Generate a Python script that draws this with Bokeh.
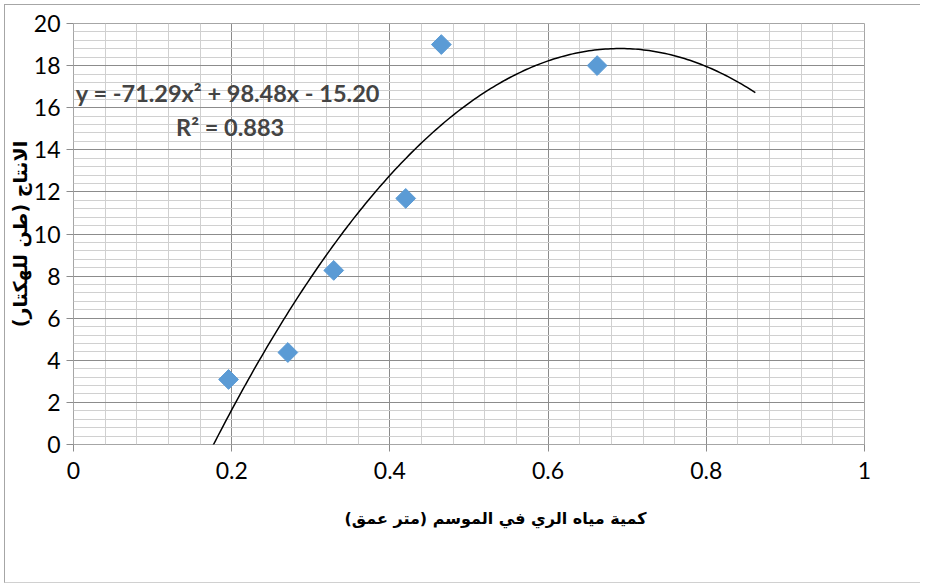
import math
from bokeh.plotting import figure
from bokeh.models import Label, Range1d, FixedTicker, Title
from bokeh.embed import file_html
from bokeh.resources import INLINE

# data
water = [0.196, 0.271, 0.329, 0.420, 0.465, 0.662]
yield_t = [3.09, 4.37, 8.27, 11.69, 19.0, 18.0]
x_ticks = [0, 0.2, 0.4, 0.6, 0.8, 1.0]
x_tick_labels = ["0", "0.2", "0.4", "0.6", "0.8", "1"]
y_ticks = [0, 2, 4, 6, 8, 10, 12, 14, 16, 18, 20]
# trendline coefficients (shown on chart)
a2, a1, a0 = -71.29, 98.48, -15.20
trend_start, trend_end = 0.176, 0.862
eq_text = "y = -71.29x² + 98.48x - 15.20"
r2_text = "R² = 0.883"
x_title = "كمية مياه الري في الموسم (متر عمق)"
y_title = "الانتاج (طن للهكتار)"

W, H = 916, 579
p = figure(width=W, height=H, output_backend="svg", toolbar_location=None,
           x_range=Range1d(0, 1), y_range=Range1d(0, 20),
           min_border_left=68, min_border_right=57, min_border_top=18, min_border_bottom=140)
p.styles = {"border-left": "1px solid #a6a6a6", "border-top": "1px solid #a6a6a6",
            "border-bottom": "1px solid #d0d0d0", "margin-left": "4px", "margin-top": "4px"}
p.background_fill_color = "white"
p.border_fill_color = "white"
p.outline_line_color = "#a6a6a6"

# grids
for g in (p.xgrid, p.ygrid):
    g.grid_line_color = "#8c8c8c"
    g.grid_line_width = 1
    g.minor_grid_line_color = "#d0d0d0"
    g.minor_grid_line_width = 1

p.xaxis.ticker = FixedTicker(ticks=x_ticks, minor_ticks=[i * 0.04 for i in range(26)])
p.yaxis.ticker = FixedTicker(ticks=y_ticks, minor_ticks=[i * 0.4 for i in range(51)])
p.xgrid.ticker = p.xaxis.ticker
p.ygrid.ticker = p.yaxis.ticker
p.xaxis.major_label_overrides = {t: l for t, l in zip(x_ticks, x_tick_labels)}

for ax in (p.xaxis, p.yaxis):
    ax.axis_line_color = None
    ax.major_tick_line_color = "#8c8c8c"
    ax.major_tick_out = 7
    ax.major_tick_in = 0
    ax.minor_tick_line_color = None
    ax.major_label_text_font = "Lato"
    ax.major_label_text_font_size = "23px"
    ax.major_label_text_color = "black"
p.xaxis.major_label_standoff = 10
p.yaxis.major_label_standoff = 6

p.yaxis.axis_label = y_title
p.yaxis.axis_label_text_font = "DejaVu Sans"
p.yaxis.axis_label_text_font_style = "bold"
p.yaxis.axis_label_text_font_size = "19px"
p.yaxis.axis_label_text_color = "black"
p.yaxis.axis_label_standoff = 0

# trendline
n = 200
tx = [trend_start + (trend_end - trend_start) * i / (n - 1) for i in range(n)]
ty = [a2 * x * x + a1 * x + a0 for x in tx]
p.line(tx, ty, line_color="black", line_width=1.5)

# points
p.scatter(water, yield_t, marker="square", size=14, angle=math.pi / 4,
          fill_color="#5B9BD5", line_color="#5B9BD5")

p.add_layout(Label(x=0.003, y=16.68, text=eq_text, text_font="Lato", text_font_style="bold",
                   text_font_size="23.5px", text_baseline="middle", text_align="left"))
p.add_layout(Label(x=0.198, y=15.07, text=r2_text, text_font="Lato", text_font_style="bold",
                   text_font_size="23.5px", text_baseline="middle", text_align="center"))

p.add_layout(Title(text=x_title, align="left", offset=271, standoff=51,
                   text_font="DejaVu Sans", text_font_style="bold", text_font_size="16px",
                   text_color="black"), "below")

open("out.html", "w").write(file_html(p, INLINE))
